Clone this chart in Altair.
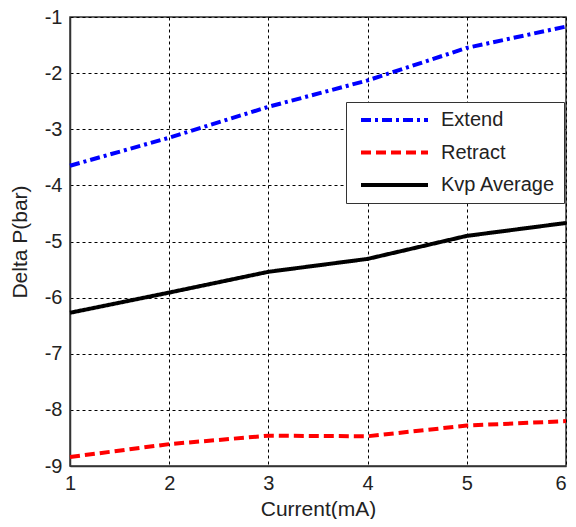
import altair as alt
import pandas as pd

current = [1, 2, 3, 4, 5, 6]
extend = [-3.65, -3.15, -2.6, -2.13, -1.55, -1.17]
retract = [-8.84, -8.61, -8.46, -8.47, -8.28, -8.2]
kvp = [-6.27, -5.91, -5.54, -5.31, -4.9, -4.67]
y_ticks = [-9, -8, -7, -6, -5, -4, -3, -2, -1]

series_names = ["Extend", "Retract", "Kvp Average"]
series_colors = ["#0000ff", "#ff0000", "#000000"]
series_dashes = [[10, 4, 3, 4], [10, 5], [1, 0]]

rows = []
for name, vals in zip(series_names, [extend, retract, kvp]):
    for c, v in zip(current, vals):
        rows.append({"Current": c, "DeltaP": v, "Series": name})
df = pd.DataFrame(rows)

FONT = "Liberation Sans"
LABEL_EXPR = "datum.value < 0 ? '-' + abs(datum.value) : '' + datum.value"

x_axis = alt.Axis(
    title="Current(mA)", values=current, labelExpr=LABEL_EXPR, labelFlush=False,
    labelAlign=alt.ExprRef(expr="datum.value >= 6 ? 'right' : 'center'"),
    grid=True, gridDash=[3, 3], gridColor="#000000", gridOpacity=1, gridWidth=1,
    ticks=False, labelPadding=7, labelFontSize=20, labelColor="#222222",
    labelFont=FONT, domainColor="#333333", domainWidth=1.5,
    titleFont=FONT, titleFontSize=21, titleFontWeight="normal", titleColor="#222222",
    titleY=49, titleBaseline="alphabetic",
)
y_axis = alt.Axis(
    title="Delta P(bar)", values=y_ticks, labelExpr=LABEL_EXPR, labelFlush=False,
    grid=True, gridDash=[3, 3], gridColor="#000000", gridOpacity=1, gridWidth=1,
    ticks=False, labelPadding=8, labelFontSize=20, labelColor="#222222",
    labelFont=FONT, domainColor="#333333", domainWidth=1.5,
    titleFont=FONT, titleFontSize=21, titleFontWeight="normal", titleColor="#222222",
    titleX=-50, titleY=224.5, titleAngle=270, titleBaseline="middle", titleAlign="center",
)

legend = alt.Legend(title=None, orient="none", legendX=276, legendY=85)

chart = alt.Chart(df).mark_line(strokeWidth=4, strokeCap="butt", strokeJoin="round").encode(
    x=alt.X("Current:Q", scale=alt.Scale(domain=[1, 6], nice=False, zero=False), axis=x_axis),
    y=alt.Y("DeltaP:Q", scale=alt.Scale(domain=[-9, -1], nice=False, zero=False), axis=y_axis),
    color=alt.Color("Series:N", scale=alt.Scale(domain=series_names, range=series_colors), legend=legend),
    strokeDash=alt.StrokeDash("Series:N", scale=alt.Scale(domain=series_names, range=series_dashes), legend=legend),
).properties(
    width=496, height=449,
    autosize=alt.AutoSizeParams(type="none"),
    padding={"left": 62, "top": 9, "right": 2, "bottom": 53},
    background="white",
).configure_view(
    stroke="#333333", strokeWidth=1.5,
).configure_legend(
    symbolType="stroke", symbolSize=4489, symbolStrokeWidth=4, clipHeight=20,
    rowPadding=12.5, padding=8, symbolOffset=5, labelOffset=11,
    labelFont=FONT, labelFontSize=20, labelColor="#222222",
    strokeColor="#333333", fillColor="white", cornerRadius=0,
    labelLimit=300,
)

chart.save("out.html", embed_options={"renderer": "svg", "actions": False})
